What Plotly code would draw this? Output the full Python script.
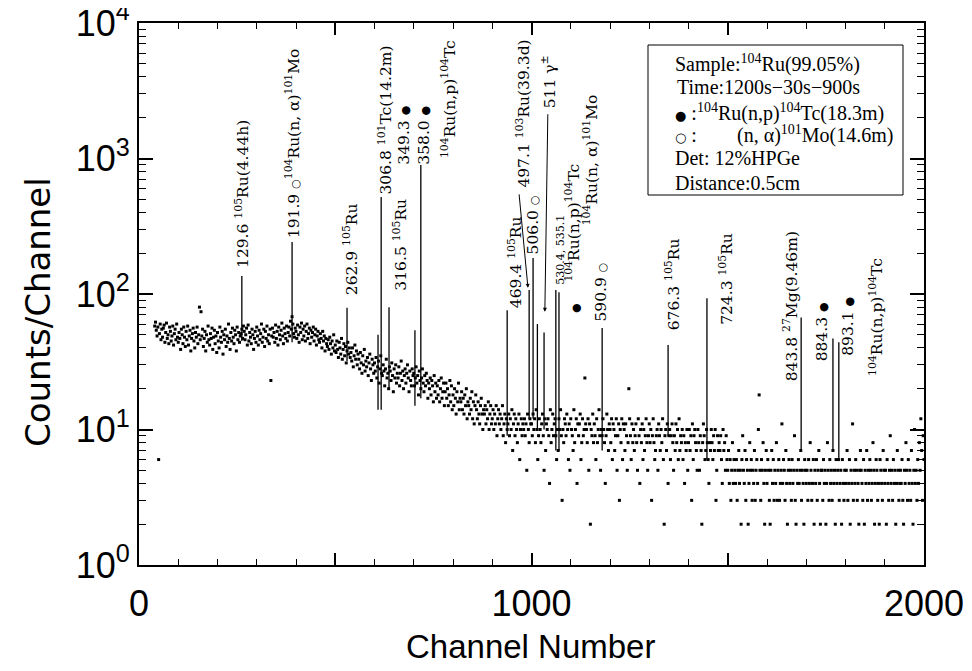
import numpy as np
import plotly.graph_objects as go

# ---------------- spectrum continuum (every 2nd channel, counts) -------------
channels_040_498 = list(range(40, 500, 2))
counts_040_498 = [
    58, 62, 54, 49, 57, 6, 51, 60, 46, 55,
    48, 56, 59, 44, 52, 61, 47, 50, 43, 57,
    53, 45, 49, 58, 42, 51, 55, 46, 60, 48,
    44, 52, 47, 39, 55, 50, 43, 57, 48, 41,
    53, 46, 58, 42, 49, 54, 38, 47, 51, 56,
    45, 40, 52, 48, 57, 43, 50, 80, 46, 74,
    49, 55, 41, 47, 53, 38, 50, 44, 58, 46,
    42, 51, 47, 56, 39, 48, 54, 43, 49, 37,
    52, 45, 40, 57, 48, 44, 53, 36, 50, 46,
    55, 41, 49, 44, 60, 47, 39, 52, 45, 56,
    48, 43, 54, 50, 38, 57, 46, 52, 44, 49,
    51, 55, 47, 58, 53, 46, 50, 56, 42, 59,
    45, 52, 48, 43, 55, 50, 39, 47, 53, 44,
    57, 49, 42, 54, 46, 51, 60, 44, 48, 55,
    41, 53, 47, 58, 45, 50, 43, 55, 23, 49,
    56, 48, 52, 44, 59, 47, 53, 42, 57, 50,
    46, 54, 61, 49, 43, 56, 51, 47, 58, 45,
    52, 57, 49, 63, 55, 68, 60, 51, 48, 56,
    53, 47, 59, 50, 44, 57, 52, 61, 46, 55,
    49, 58, 45, 53, 60, 47, 51, 56, 43, 54,
    48, 52, 57, 45, 50, 55, 42, 49, 53, 46,
    44, 51, 47, 40, 53, 45, 49, 38, 47, 43,
    41, 46, 39, 48, 43, 36, 45, 40, 50, 38,
]
channels_500_998 = list(range(500, 1000, 2))
counts_500_998 = [
    42, 37, 45, 39, 34, 44, 40, 36, 47, 33,
    39, 43, 35, 41, 31, 38, 44, 36, 40, 34,
    37, 32, 40, 29, 35, 42, 33, 38, 30, 36,
    33, 28, 37, 31, 26, 35, 30, 39, 27, 32,
    29, 34, 25, 31, 36, 28, 23, 33, 30, 26,
    31, 27, 34, 24, 29, 32, 22, 28, 35, 26,
    25, 30, 27, 21, 28, 33, 24, 26, 20, 29,
    27, 23, 31, 25, 19, 28, 24, 30, 22, 26,
    24, 29, 21, 26, 32, 23, 27, 20, 25, 28,
    22, 26, 30, 24, 19, 27, 23, 21, 28, 25,
    26, 21, 24, 29, 22, 25, 18, 27, 23, 20,
    24, 28, 22, 19, 25, 21, 26, 23, 17, 22,
    20, 24, 18, 23, 21, 16, 25, 19, 22, 17,
    21, 18, 23, 16, 20, 24, 17, 19, 22, 15,
    19, 22, 17, 20, 15, 18, 23, 16, 21, 14,
    18, 15, 20, 17, 13, 19, 16, 22, 14, 17,
    16, 19, 14, 17, 13, 18, 15, 20, 12, 16,
    15, 13, 17, 14, 19, 12, 16, 11, 15, 18,
    14, 12, 16, 13, 11, 15, 17, 13, 10, 14,
    13, 15, 11, 14, 12, 16, 10, 13, 15, 11,
    12, 14, 10, 13, 11, 15, 9, 12, 14, 11,
    13, 10, 12, 15, 9, 11, 13, 8, 12, 10,
    11, 13, 9, 12, 10, 14, 7, 11, 13, 9,
    12, 10, 8, 11, 13, 6, 10, 12, 9, 11,
    10, 12, 9, 11, 5, 13, 10, 8, 12, 11,
]
channels_1000_1498 = list(range(1000, 1500, 2))
counts_1000_1498 = [
    11, 9, 13, 10, 12, 8, 14, 10, 6, 9,
    12, 10, 8, 11, 13, 9, 5, 12, 7, 11,
    10, 12, 9, 4, 14, 8, 10, 13, 9, 11,
    12, 9, 6, 10, 7, 12, 10, 14, 9, 3,
    10, 8, 12, 11, 9, 13, 10, 6, 11, 5,
    12, 10, 9, 7, 14, 8, 10, 12, 4, 11,
    9, 11, 13, 6, 8, 12, 9, 10, 24, 11,
    10, 8, 12, 5, 11, 2, 10, 9, 13, 8,
    11, 9, 6, 12, 8, 10, 14, 9, 5, 10,
    9, 12, 10, 8, 4, 9, 13, 10, 7, 11,
    10, 8, 12, 6, 11, 10, 7, 9, 12, 5,
    9, 11, 3, 10, 8, 12, 6, 11, 10, 7,
    11, 9, 5, 8, 20, 12, 9, 6, 11, 8,
    10, 7, 9, 11, 8, 5, 12, 9, 4, 10,
    8, 11, 6, 10, 7, 9, 12, 8, 5, 9,
    11, 8, 10, 3, 9, 12, 8, 6, 7, 9,
    10, 5, 11, 9, 7, 10, 8, 12, 6, 2,
    9, 10, 7, 11, 4, 9, 10, 6, 9, 11,
    8, 5, 9, 7, 11, 8, 10, 6, 12, 7,
    9, 8, 10, 6, 9, 4, 8, 7, 10, 5,
    8, 10, 7, 9, 3, 11, 6, 9, 10, 8,
    7, 5, 10, 8, 5, 9, 7, 2, 8, 11,
    9, 6, 7, 10, 8, 6, 4, 8, 7, 10,
    8, 6, 9, 7, 10, 3, 5, 9, 7, 8,
    7, 9, 6, 4, 10, 7, 8, 5, 9, 6,
]
channels_1500_2000 = list(range(1500, 2001, 2))
counts_1500_2000 = [
    5, 7, 4, 6, 3, 5, 8, 4, 6, 5,
    4, 6, 3, 5, 7, 4, 5, 2, 6, 9,
    5, 4, 7, 3, 6, 5, 2, 4, 8, 5,
    6, 3, 5, 4, 7, 3, 5, 6, 4, 10,
    18, 5, 3, 6, 5, 8, 4, 2, 5, 7,
    4, 6, 5, 3, 2, 5, 7, 4, 6, 3,
    5, 4, 8, 3, 5, 6, 3, 4, 5, 11,
    4, 6, 5, 3, 7, 4, 2, 5, 6, 4,
    5, 3, 6, 4, 5, 9, 3, 2, 5, 4,
    6, 4, 5, 7, 3, 5, 4, 2, 6, 5,
    4, 5, 3, 6, 4, 8, 5, 3, 4, 6,
    2, 5, 4, 6, 3, 5, 7, 4, 2, 5,
    5, 3, 6, 4, 5, 2, 4, 8, 5, 3,
    6, 4, 5, 3, 7, 4, 5, 2, 6, 4,
    5, 6, 3, 4, 5, 2, 6, 4, 3, 5,
    4, 5, 7, 3, 4, 6, 2, 5, 4, 11,
    3, 5, 4, 6, 5, 3, 4, 2, 5, 7,
    5, 4, 3, 6, 2, 5, 4, 7, 3, 5,
    4, 6, 5, 3, 4, 8, 5, 2, 4, 6,
    5, 3, 4, 2, 6, 5, 4, 3, 7, 5,
    4, 5, 2, 6, 4, 3, 5, 9, 4, 5,
    3, 6, 4, 5, 2, 4, 7, 5, 3, 4,
    5, 4, 6, 3, 2, 5, 4, 8, 5, 3,
    6, 4, 5, 3, 7, 4, 2, 5, 10, 4,
    5, 3, 6, 4, 8, 5, 12, 7, 3, 9,
    6,
]

# ---------------- peaks (channel, top count, foot count) ----------------
peak_channels = [262, 390, 530, 609, 617, 637, 703, 718, 938, 994, 1004, 1015,
                 1032, 1062, 1070, 1180, 1348, 1447, 1687, 1768, 1783]
peak_tops = [136, 242, 79, 50, 520, 80, 54, 895, 76, 107, 184, 60,
             52, 107, 103, 56, 42, 93, 67, 47, 44]
peak_feet = [45, 44, 32, 14, 14, 20, 15, 17, 9, 12, 12, 10,
             10, 7, 7, 7, 9, 6, 7, 7, 6]

# ---------------- peak labels (text, channel, count at text start) ----------------
DOT = "<span style='font-family:DejaVu Sans;font-size:11px'>●</span>"
RING = "<span style='font-family:DejaVu Sans;font-size:11px'>○</span>"
LDOT = "<span style='font-family:DejaVu Sans;font-size:13px'>●</span>"
LRING = "<span style='font-family:DejaVu Sans;font-size:13px'>○</span>"
label_texts = [
    "129.6 <sup>105</sup>Ru(4.44h)",
    "191.9 " + RING + "<sup>104</sup>Ru(n, α)<sup>101</sup>Mo",
    "262.9 <sup>105</sup>Ru",
    "306.8 <sup>101</sup>Tc(14.2m)",
    "316.5 <sup>105</sup>Ru",
    "349.3 " + DOT,
    "358.0 " + DOT,
    "<sup>104</sup>Ru(n,p)<sup>104</sup>Tc",
    "469.4 <sup>105</sup>Ru",
    "497.1 <sup>103</sup>Ru(39.3d)",
    "506.0 " + RING,
    "511 γ<sup>±</sup>",
    "<sup>104</sup>Ru(n,p)<sup>104</sup>Tc",
    "<sup>104</sup>Ru(n, α)<sup>101</sup>Mo",
    "590.9 " + RING,
    "676.3 <sup>105</sup>Ru",
    "724.3 <sup>105</sup>Ru",
    "843.8 <sup>27</sup>Mg(9.46m)",
    "884.3 " + DOT,
    "893.1 " + DOT,
    "<sup>104</sup>Ru(n,p)<sup>104</sup>Tc",
]
label_channels = [262, 390, 538, 627, 667, 673, 724, 790, 958, 980, 1004, 1044,
                  1104, 1151, 1177, 1360, 1495, 1659, 1740, 1806, 1880]
label_counts = [150, 250, 95, 520, 102, 865, 865, 975, 76, 586, 188, 2280,
                120, 312, 61, 52, 57, 22, 31, 34, 24]

legend_lines = [
    "Sample:<sup>104</sup>Ru(99.05%)",
    "Time:1200s−30s−900s",
    LDOT + " :<sup>104</sup>Ru(n,p)<sup>104</sup>Tc(18.3m)",
    LRING + " :",
    "(n, α)<sup>101</sup>Mo(14.6m)",
    "Det: 12%HPGe",
    "Distance:0.5cm",
]

# ---------------- geometry (page has an 8 px body margin) ----------------
OFF = 8
W, H = 964, 663
L, R, T, B = 131, 48, 15, 106
PW, PH = W - L - R, H - T - B


def px_x(px):
    return (px - OFF - L) / PW


def px_y(py):
    return (H - B - (py - OFF)) / PH


serif = "Liberation Serif, Times New Roman, serif"
serif_wide = "DejaVu Serif, serif"
sans = "Liberation Sans, Arial, Helvetica, sans-serif"
sans_wide = "DejaVu Sans, sans-serif"

fig = go.Figure()

ch_all = channels_040_498 + channels_500_998 + channels_1000_1498 + channels_1500_2000
ct_all = counts_040_498 + counts_500_998 + counts_1000_1498 + counts_1500_2000
assert len(ch_all) == len(ct_all), (len(ch_all), len(ct_all))

# peak lines
lx, ly = [], []
for c, t, f in zip(peak_channels, peak_tops, peak_feet):
    lx += [c, c, None]
    ly += [f, t, None]
fig.add_trace(go.Scatter(x=lx, y=ly, mode="lines",
                         line=dict(color="black", width=1.3), hoverinfo="skip"))

fig.add_trace(go.Scatter(x=ch_all, y=ct_all, mode="markers",
                         marker=dict(symbol="square", size=3, color="black",
                                     line=dict(width=0))))

annotations = []
for txt, c, v in zip(label_texts, label_channels, label_counts):
    annotations.append(dict(x=c, y=np.log10(v), xref="x", yref="y", text=txt,
                            textangle=-90, showarrow=False, xanchor="center",
                            yanchor="bottom", font=dict(family=serif_wide, size=15.5, color="black")))
# small doublet label and lone marker
annotations.append(dict(x=1075, y=np.log10(113), xref="x", yref="y", text="530.4, 535.1",
                        textangle=-90, showarrow=False, xanchor="center", yanchor="bottom",
                        font=dict(family=serif_wide, size=11, color="black")))
annotations.append(dict(x=1116, y=np.log10(79), xref="x", yref="y", text="●",
                        showarrow=False, xanchor="center", yanchor="middle",
                        font=dict(family=sans_wide, size=11, color="black")))
# arrows
annotations.append(dict(x=991, y=np.log10(111), xref="x", yref="y", text="", showarrow=True,
                        ax=-9, ay=-95, arrowhead=2, arrowsize=0.8, arrowwidth=1, arrowcolor="black"))
annotations.append(dict(x=1034, y=np.log10(74), xref="x", yref="y", text="", showarrow=True,
                        ax=3, ay=-199, arrowhead=2, arrowsize=0.8, arrowwidth=1, arrowcolor="black"))

# legend box text
leg_pos = [(673, 63), (675, 87), (673, 112), (673, 135), (735, 135), (673, 158), (673, 183)]
for txt, (px, py) in zip(legend_lines, leg_pos):
    annotations.append(dict(x=px_x(px), y=px_y(py), xref="paper", yref="paper", text=txt,
                            showarrow=False, xanchor="left", yanchor="middle",
                            font=dict(family=serif, size=20, color="black")))

# axis titles
annotations.append(dict(x=px_x(38), y=px_y(312), xref="paper", yref="paper",
                        text="Counts/Channel", textangle=-90, showarrow=False,
                        xanchor="center", yanchor="middle",
                        font=dict(family=sans_wide, size=34, color="black")))
annotations.append(dict(x=px_x(530), y=px_y(646), xref="paper", yref="paper",
                        text="Channel Number", showarrow=False,
                        xanchor="center", yanchor="middle",
                        font=dict(family=sans, size=33, color="black")))

shapes = [dict(type="rect", xref="paper", yref="paper",
               x0=px_x(648), x1=px_x(903), y0=px_y(195), y1=px_y(45),
               line=dict(color="black", width=1), fillcolor="rgba(0,0,0,0)")]

minor_y = [m * 10 ** d for d in range(4) for m in range(2, 10)]

fig.update_layout(
    width=W, height=H,
    margin=dict(l=L, r=R, t=T, b=B, autoexpand=False),
    paper_bgcolor="white", plot_bgcolor="white",
    showlegend=False,
    annotations=annotations,
    shapes=shapes,
    xaxis=dict(range=[0, 2000], tickmode="array",
               tickvals=[0, 500, 1000, 1500, 2000],
               ticktext=["0", "", "1000", "", "2000"],
               ticks="inside", ticklen=12, tickwidth=1.5, tickcolor="black",
               minor=dict(dtick=100, ticks="inside", ticklen=6, tickwidth=1.2,
                          tickcolor="black", showgrid=False),
               showline=True, linewidth=2, linecolor="black", mirror="allticks",
               showgrid=False, zeroline=False,
               tickfont=dict(family=sans, size=36, color="black"),
               ticklabelstandoff=6, ticklabeloverflow="allow"),
    yaxis=dict(type="log", range=[0, 4], tickmode="array",
               tickvals=[1, 10, 100, 1000, 10000],
               ticktext=["10<sup>0</sup>", "10<sup>1</sup>", "10<sup>2</sup>",
                         "10<sup>3</sup>", "10<sup>4</sup>"],
               ticks="inside", ticklen=14, tickwidth=1.5, tickcolor="black",
               minor=dict(tickmode="array", tickvals=minor_y, ticks="inside", ticklen=7,
                          tickwidth=1.2, tickcolor="black", showgrid=False),
               showline=True, linewidth=2, linecolor="black", mirror="allticks",
               showgrid=False, zeroline=False,
               tickfont=dict(family=sans, size=36, color="black"),
               ticklabeloverflow="allow"),
)

fig.write_html("out.html")
